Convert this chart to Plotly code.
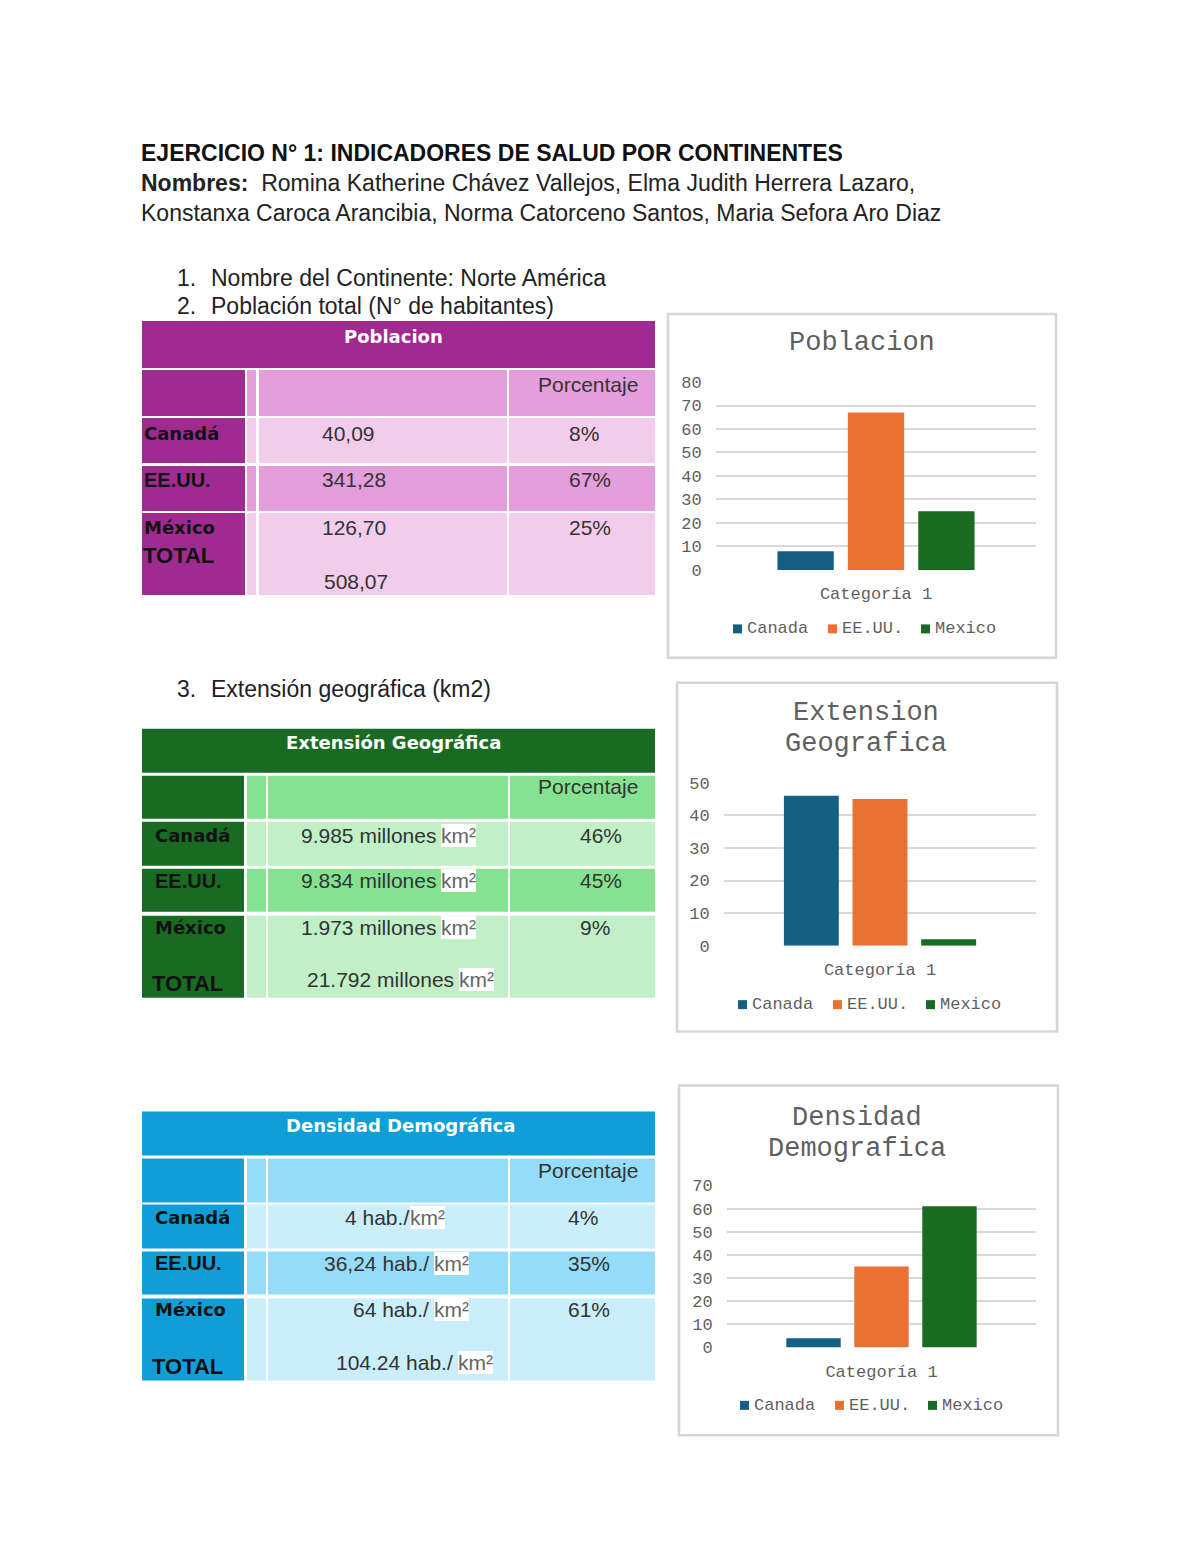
import plotly.graph_objects as go

# la pagina mide 1200x1553; el body del html deja 8 px de margen
ANCHO, ALTO = 1184, 1537
OFF = 8
# ajuste vertical medido en la captura
ESC_Y, DESP_Y = 0.9883, 6.8

# ---- datos de los graficos ----
paises = ["Canada", "EE.UU.", "Mexico"]
colores_paises = ["#156082", "#E97132", "#196B24"]
categorias = ["Categoría 1"]
poblacion = [8, 67, 25]
extension = [46, 45, 2]
densidad = [4, 35, 61]

# ---- datos de las tablas ----
filas = ["Canadá", "EE.UU.", "México"]
pob_valores = ["40,09", "341,28", "126,70"]
pob_total = "508,07"
pob_pct = ["8%", "67%", "25%"]
ext_valores = ["9.985 millones", "9.834 millones", "1.973 millones"]
ext_total = "21.792 millones"
ext_pct = ["46%", "45%", "9%"]
den_valores = ["4 hab./", "36,24 hab./", "64 hab./"]
den_total = "104.24 hab./"
den_pct = ["4%", "35%", "61%"]

SANS = "Liberation Sans, Arial, sans-serif"
VERD = "DejaVu Sans, Verdana, sans-serif"
MONO = "Courier New, Liberation Mono, monospace"
GRIS = "#5f5f5f"

formas = []
anotaciones = []


def fx(x):
    return (x - OFF) / ANCHO


def fy(y):
    y = (y - DESP_Y) / ESC_Y
    return 1 - (y - OFF) / ALTO


def rect(x0, y0, x1, y1, color, borde=None):
    d = dict(type="rect", xref="paper", yref="paper", layer="below",
             x0=fx(x0), x1=fx(x1), y0=fy(y1), y1=fy(y0))
    if borde:
        d.update(fillcolor="rgba(0,0,0,0)", line=dict(color=borde, width=2.5))
    else:
        d.update(fillcolor=color, line_width=0)
    formas.append(d)


def txt(x, y, s, size=21, color="#222", family=SANS, anchor="left", bg=None):
    d = dict(xref="paper", yref="paper", x=fx(x), y=fy(y), text=s,
             showarrow=False, xanchor=anchor, yanchor="middle", borderpad=0,
             borderwidth=0, font=dict(family=family, size=size, color=color))
    if bg:
        d["bgcolor"] = bg
    anotaciones.append(d)


# ---- texto de la pagina ----
txt(141, 152, "<b>EJERCICIO N° 1: INDICADORES DE SALUD POR CONTINENTES</b>", 23, "#111")
txt(141, 182, "<b>Nombres:</b>\u00a0 Romina Katherine Chávez Vallejos, Elma Judith Herrera Lazaro,", 23, "#222")
txt(141, 212, "Konstanxa Caroca Arancibia, Norma Catorceno Santos, Maria Sefora Aro Diaz", 23, "#222")
txt(177, 277, "1.", 23)
txt(211, 277, "Nombre del Continente: Norte América", 23)
txt(177, 305, "2.", 23)
txt(211, 305, "Población total (N° de habitantes)", 23)
txt(177, 688, "3.", 23)
txt(211, 688, "Extensión geográfica (km2)", 23)


# ---- tablas ----
def tabla(filas_y, cols, colores, titulo, titulo_x, porc_y, nombres_x, total_xy,
          valores, total, pct, val_pos, total_pos, pct_x, km=None):
    oscuro, medio, claro = colores
    (h0, h1) = filas_y[0]
    rect(cols[0][0], h0, cols[-1][1], h1, oscuro)
    txt(titulo_x, (h0 + h1) / 2 - 8, "<b>" + titulo + "</b>", 18, "white", VERD, "center")
    tonos = [medio, claro, medio, claro]
    for (y0, y1), tono in zip(filas_y[1:], tonos):
        for j, (x0, x1) in enumerate(cols):
            rect(x0, y0, x1, y1, oscuro if j == 0 else tono)
    txt(538, porc_y, "Porcentaje", 21, "#333")
    for i, nombre in enumerate(filas):
        yy = val_pos[i][1]
        if nombre == "EE.UU.":
            txt(nombres_x, yy, "<b>" + nombre + "</b>", 20, "#111", SANS)
        else:
            txt(nombres_x, yy, "<b>" + nombre + "</b>", 18, "#111", VERD)
        txt(pct_x, yy, pct[i], 21, "#333")
        if km:
            txt(val_pos[i][0], yy, valores[i], 21, "#333", anchor="right")
            txt(km[i], yy, "km²", 21, "#666", anchor="right", bg="white")
        else:
            txt(val_pos[i][0], yy, valores[i], 21, "#333")
    txt(total_xy[0], total_xy[1], "<b>TOTAL</b>", 22, "#111", SANS)
    if km:
        txt(total_pos[0], total_pos[1], total, 21, "#333", anchor="right")
        txt(km[3], total_pos[1], "km²", 21, "#666", anchor="right", bg="white")
    else:
        txt(total_pos[0], total_pos[1], total, 21, "#333")


tabla([(320, 367), (369, 415), (417, 462), (465, 510), (512, 594)],
      [(142, 245), (247, 256), (259, 507), (509, 655)],
      ("#9F2B91", "#E39EDB", "#F1CDEB"), "Poblacion", 393, 383, 144, (143, 555),
      pob_valores, pob_total, pob_pct,
      [(322, 432), (322, 479), (322, 527)], (324, 581), 569)

tabla([(728, 772), (775, 818), (821, 865), (868, 911), (915, 997)],
      [(142, 244), (247, 266), (268, 508), (510, 655)],
      ("#196B24", "#84E291", "#C1F0C7"), "Extensión Geográfica", 394, 786, 155, (152, 983),
      ext_valores, ext_total, ext_pct,
      [(436, 835), (436, 880), (436, 927)], (454, 979), 580,
      km=[476, 476, 476, 494])

tabla([(1111, 1155), (1158, 1202), (1204, 1248), (1251, 1294), (1298, 1380)],
      [(142, 244), (247, 266), (268, 508), (510, 655)],
      ("#0F9ED5", "#95DCF8", "#CAEEFB"), "Densidad Demográfica", 400, 1170, 155, (152, 1366),
      den_valores, den_total, den_pct,
      [(409, 1217), (429, 1263), (429, 1309)], (453, 1362), 568,
      km=[445, 469, 469, 493])

# ---- graficos de barras ----
graficos = [
    dict(valores=poblacion, xd=(716, 1036), yd=(569, 381), rmax=80,
         titulos=[("Poblacion", 342)], centro=862, caja=(668, 313, 1056, 657),
         ley=(733, 628)),
    dict(valores=extension, xd=(724, 1036), yd=(945, 782), rmax=50,
         titulos=[("Extension", 712), ("Geografica", 743)], centro=866,
         caja=(677, 682, 1057, 1031), ley=(738, 1004)),
    dict(valores=densidad, xd=(727, 1036), yd=(1347, 1185), rmax=70,
         titulos=[("Densidad", 1117), ("Demografica", 1148)], centro=857,
         caja=(679, 1085, 1058, 1435), ley=(740, 1405)),
]

fig = go.Figure()
layout_ejes = {}
for k, g in enumerate(graficos, start=1):
    sx = "" if k == 1 else str(k)
    for pais, color, v in zip(paises, colores_paises, g["valores"]):
        fig.add_trace(go.Bar(x=categorias, y=[v], name=pais, marker_color=color,
                             marker_line_width=0, showlegend=False,
                             xaxis="x" + sx, yaxis="y" + sx))
    layout_ejes["xaxis" + sx] = dict(
        domain=[fx(g["xd"][0]), fx(g["xd"][1])], anchor="y" + sx,
        type="category", showgrid=False, showline=False, zeroline=False,
        ticks="outside", ticklen=8, tickcolor="rgba(0,0,0,0)",
        tickfont=dict(family=MONO, size=17, color=GRIS), fixedrange=True)
    layout_ejes["yaxis" + sx] = dict(
        domain=[fy(g["yd"][0]), fy(g["yd"][1])], anchor="x" + sx,
        range=[0, g["rmax"]], dtick=10, showgrid=True, gridcolor="#D9D9D9",
        gridwidth=2, zeroline=False, showline=False,
        ticks="outside", ticklen=10, tickcolor="rgba(0,0,0,0)",
        tickfont=dict(family=MONO, size=17, color=GRIS), fixedrange=True)
    x0, y0, x1, y1 = g["caja"]
    rect(x0, y0, x1, y1, None, borde="#D6D6D6")
    for t, ty in g["titulos"]:
        txt(g["centro"], ty, t, 27, GRIS, MONO, "center")
    lx, ly = g["ley"]
    for pais, color, off in zip(paises, colores_paises, [0, 95, 188]):
        rect(lx + off, ly - 4.5, lx + off + 9, ly + 4.5, color)
        txt(lx + off + 14, ly, pais, 17, GRIS, MONO)

fig.update_layout(
    width=ANCHO, height=ALTO, margin=dict(l=0, r=0, t=0, b=0),
    paper_bgcolor="white", plot_bgcolor="rgba(0,0,0,0)",
    barmode="group", bargap=0.34, bargroupgap=0.2,
    shapes=formas, annotations=anotaciones, **layout_ejes)

fig.write_html("out.html", config={"displayModeBar": False})
